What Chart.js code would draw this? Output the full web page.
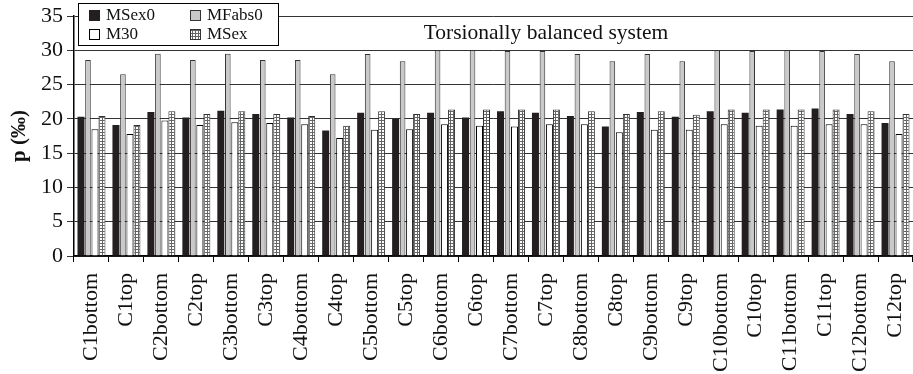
<!DOCTYPE html>
<html>
<head>
<meta charset="utf-8">
<script src="https://cdn.jsdelivr.net/npm/chart.js@4"></script>
<style>
  html, body { margin: 0; padding: 0; background: #fff; }
  canvas { display: block; }
</style>
</head>
<body>
<canvas id="chart" width="913" height="374"></canvas>
<script>
const categories = [
  "C1bottom", "C1top", "C2bottom", "C2top", "C3bottom", "C3top",
  "C4bottom", "C4top", "C5bottom", "C5top", "C6bottom", "C6top",
  "C7bottom", "C7top", "C8bottom", "C8top", "C9bottom", "C9top",
  "C10bottom", "C10top", "C11bottom", "C11top", "C12bottom", "C12top"
];
const msex0 = [20.3, 19.1, 21.0, 20.2, 21.2, 20.7, 20.2, 18.3, 20.9, 20.0, 20.9, 20.2,
               21.1, 20.9, 20.4, 18.9, 21.0, 20.3, 21.1, 20.9, 21.35, 21.5, 20.7, 19.4];
const mfabs0 = [28.6, 26.5, 29.5, 28.6, 29.5, 28.6, 28.6, 26.5, 29.45, 28.4, 30.0, 30.0,
                29.9, 29.9, 29.45, 28.4, 29.45, 28.4, 30.0, 29.9, 30.0, 29.9, 29.45, 28.4];
const m30 = [18.5, 17.8, 19.75, 19.1, 19.5, 19.4, 19.2, 17.2, 18.4, 18.5, 19.2, 19.0,
             18.9, 19.2, 19.2, 18.05, 18.4, 18.4, 19.2, 19.0, 19.0, 19.2, 19.2, 17.8];
const msex = [20.4, 19.1, 21.1, 20.7, 21.1, 20.7, 20.4, 19.0, 21.1, 20.7, 21.35, 21.35,
              21.35, 21.35, 21.1, 20.7, 21.1, 20.6, 21.35, 21.35, 21.35, 21.35, 21.1, 20.7];
const yMax = 35;
const yStep = 5;
const chartTitle = "Torsionally balanced system";
const yTitle = "p (\u2030)";

const serif = "'Liberation Serif', 'DejaVu Serif', serif";

// dotted fill for MSex
function dotPattern() {
  const c = document.createElement("canvas");
  c.width = 3;
  c.height = 3;
  const g = c.getContext("2d");
  g.fillStyle = "#fff";
  g.fillRect(0, 0, 3, 3);
  g.fillStyle = "#666";
  g.fillRect(0, 0, 3, 1);
  g.fillRect(0, 0, 1, 3);
  return g.createPattern(c, "repeat");
}
const msexFill = dotPattern();

const boxLegend = {
  id: "boxLegend",
  afterDraw(chart) {
    const ctx = chart.ctx;
    const area = chart.chartArea;
    const x = chart.scales.x;
    const y = chart.scales.y;

    // title inside plot
    ctx.save();
    ctx.font = "21.5px " + serif;
    ctx.fillStyle = "#111";
    ctx.textAlign = "center";
    ctx.textBaseline = "middle";
    ctx.fillText(chartTitle, x.getPixelForValue(13), y.getPixelForValue(32.4));

    // legend box
    const bx = area.left + 4, by = 3, bw = 200, bh = 42;
    ctx.fillStyle = "#fff";
    ctx.fillRect(bx, by, bw, bh);
    ctx.strokeStyle = "#000";
    ctx.lineWidth = 1;
    ctx.strokeRect(bx + 0.5, by + 0.5, bw, bh);

    ctx.font = "17px " + serif;
    ctx.textAlign = "left";
    chart.data.datasets.forEach((ds, i) => {
      const col = i % 2, row = Math.floor(i / 2);
      const mx = bx + 11 + col * 101;
      const my = by + 7 + row * 19;
      ctx.fillStyle = ds.backgroundColor;
      ctx.fillRect(mx, my, 11, 11);
      ctx.strokeStyle = ds.borderColor;
      ctx.strokeRect(mx + 0.5, my + 0.5, 10, 10);
      ctx.fillStyle = "#111";
      ctx.fillText(ds.label, mx + 17, my + 6);
    });
    ctx.restore();
  }
};

new Chart(document.getElementById("chart"), {
  type: "bar",
  data: {
    labels: categories,
    datasets: [
      { label: "MSex0", data: msex0, backgroundColor: "#231f20", borderColor: "#231f20", borderWidth: 0, barPercentage: 1.0 },
      { label: "MFabs0", data: mfabs0, backgroundColor: "#c9c9c9", borderColor: "#333", borderWidth: 1, barPercentage: 0.8 },
      { label: "M30", data: m30, backgroundColor: "#fff", borderColor: "#000", borderWidth: 1, barPercentage: 1.0 },
      { label: "MSex", data: msex, backgroundColor: msexFill, borderColor: "#333", borderWidth: 1, barPercentage: 1.0 }
    ]
  },
  options: {
    responsive: false,
    animation: false,
    // the original plot runs past the right edge of the image
    layout: { padding: { top: 16, right: -10, bottom: 0, left: 0 } },
    datasets: { bar: { categoryPercentage: 0.8, borderSkipped: "bottom" } },
    plugins: {
      legend: { display: false },
      tooltip: { enabled: false },
      title: { display: false }
    },
    scales: {
      x: {
        afterFit(s) {
          s.height = 118;
          s.paddingLeft = 0;
          s.paddingRight = -10;
        },
        grid: { offset: true, drawOnChartArea: false, drawTicks: true, tickLength: 6, color: "#000" },
        border: { color: "#000", width: 1.5 },
        ticks: {
          font: { family: serif, size: 22 },
          color: "#111",
          minRotation: 90,
          maxRotation: 90,
          autoSkip: false,
          padding: 11
        }
      },
      y: {
        min: 0,
        max: yMax,
        afterFit(s) {
          s.width = 74;
          s.paddingTop = 0;
          s.paddingBottom = 0;
        },
        grid: { color: "#333", lineWidth: 1, tickLength: 7, drawTicks: true },
        border: { color: "#000", width: 1.5 },
        ticks: {
          stepSize: yStep,
          font: { family: serif, size: 22 },
          color: "#111",
          padding: 4
        },
        title: {
          display: true,
          text: yTitle,
          font: { family: serif, size: 21, weight: "bold" },
          color: "#111",
          padding: { top: 7, bottom: 6 }
        }
      }
    }
  },
  plugins: [boxLegend]
});
</script>
</body>
</html>
